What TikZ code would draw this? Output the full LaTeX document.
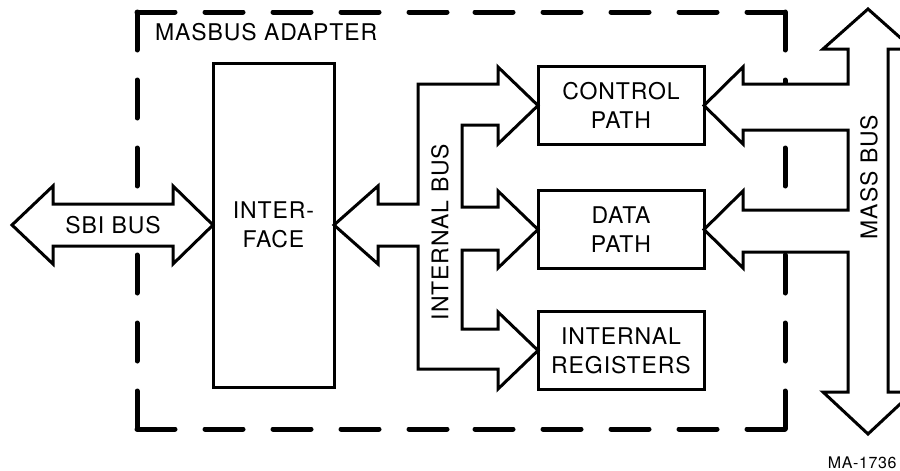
\documentclass[tikz,border=0pt]{standalone}
\usepackage{fontspec}
\setmainfont{TeX Gyre Heros}[LetterSpace=4]
\usetikzlibrary{positioning}

\begin{document}
\begin{tikzpicture}[x=0.5pt, y=-0.5pt]
  \newcommand\blockwidth{83pt}
  \newcommand\blockheight{39pt}

  \tikzset{blocktext/.style={font=\fontsize{11.5}{14.5}\selectfont, align=center}}
  \tikzset{block/.style={blocktext, draw, line width=1.5pt, inner sep=0pt, outer sep=0pt, minimum width=\blockwidth, minimum height=\blockheight}}
  \tikzset{fatarrow/.style={draw, fill=white, line width=1.5pt, line join=miter}}
  \tikzset{adapterframe/.style={draw, line width=2.5pt, line cap=round, dash pattern=on 19pt off 15pt}}

  \useasboundingbox (0,0) rectangle (900,471);

  % adapter frame, every side dashed from its corners
  \draw[adapterframe] (137,12) -- (461,12) (785,12) -- (461,12)
                      (785,12) -- (785,220) (785,429) -- (785,220)
                      (785,429) -- (461,429) (137,429) -- (461,429)
                      (137,429) -- (137,220) (137,12) -- (137,220);

  \node[block, minimum width=60.5pt, minimum height=162pt] (iface) at (273.5,225) {INTER-\\FACE};
  \node[block] (ctrl) at (621,105.5) {CONTROL\\PATH};
  \node[block, below=23pt of ctrl] (data) {DATA\\PATH};
  \node[block, below=21.5pt of data] (regs) {INTERNAL\\REGISTERS};

  % sbi bus
  \draw[fatarrow] (iface.west) -- ++(-40,-39) -- ++(0,18) -- ++(-120,0) -- ++(0,-18) -- ++(-41,39)
                  -- ++(41,39) -- ++(0,-18) -- ++(120,0) -- ++(0,18) -- cycle;

  % internal bus
  \draw[fatarrow] (iface.east) -- (378,186) -- (378,204) -- (418,204) -- (418,84) -- (498,84) -- (498,67)
                  -- (ctrl.west) -- (498,144) -- (498,125) -- (462,125) -- (462,207) -- (498,207) -- (498,191)
                  -- (data.west) -- (498,268) -- (498,250) -- (462,250) -- (462,329) -- (498,329) -- (498,312)
                  -- (regs.west) -- (498,389) -- (498,369) -- (418,369) -- (418,246) -- (378,246) -- (378,264) -- cycle;

  % mass bus
  \draw[fatarrow] (868,9) -- (913,49) -- (888,49) -- (888,392) -- (913,392) -- (868,434) -- (823,392) -- (848,392)
                  -- (848,252) -- (743,252) -- (743,268) -- (data.east) -- (743,191) -- (743,210) -- (848,210)
                  -- (848,130) -- (743,130) -- (743,144) -- (ctrl.east) -- (743,67) -- (743,84) -- (848,84)
                  -- (848,49) -- (823,49) -- cycle;

  \node[blocktext, anchor=west] (title) at (148,32) {MASBUS ADAPTER};
  \node[blocktext] (sbi) at (113,225) {SBI BUS};
  \node[blocktext, rotate=90] (ibus) at (440,232) {INTERNAL BUS};
  \node[blocktext, rotate=90] (mbus) at (869,177) {MASS BUS};
  \node[font=\fontsize{8}{10}\selectfont, inner sep=1pt, anchor=east] (fig) at (899,463) {MA-1736};
\end{tikzpicture}
\end{document}
